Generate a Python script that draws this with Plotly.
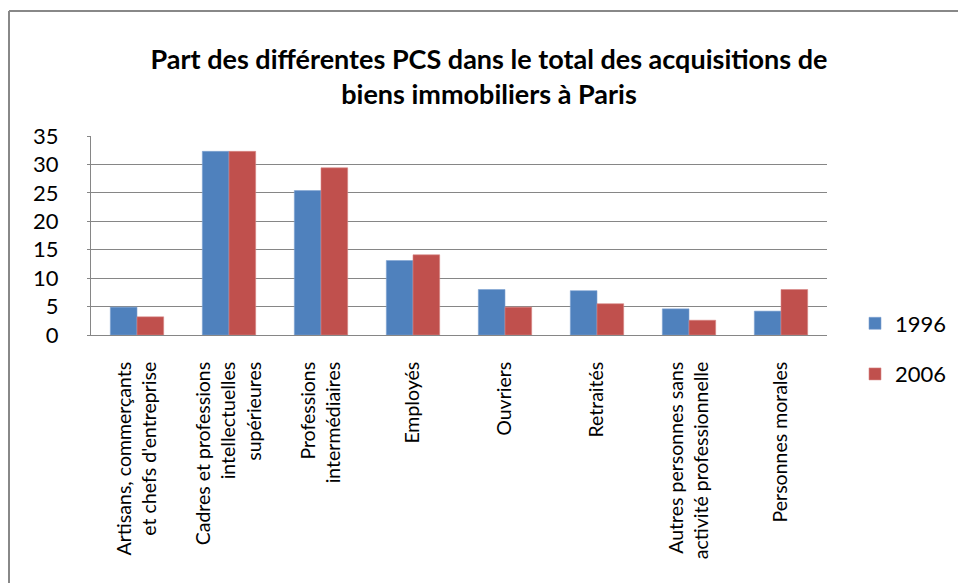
import plotly.graph_objects as go

categories = [
    "Artisans, commerçants<br>et chefs d'entreprise",
    "Cadres et professions<br>intellectuelles<br>supérieures",
    "Professions<br>intermédiaires",
    "Employés",
    "Ouvriers",
    "Retraités",
    "Autres personnes sans<br>activité professionnelle",
    "Personnes morales",
]
values_1996 = [4.9, 32.3, 25.4, 13.1, 8.0, 7.8, 4.6, 4.2]
values_2006 = [3.2, 32.3, 29.4, 14.1, 4.9, 5.5, 2.6, 8.0]
y_ticks = [0, 5, 10, 15, 20, 25, 30, 35]

FONT = "Lato"
W, H = 958, 583
L, R, T, B = 91, 827, 136, 335
pw, ph = R - L, B - T

fig = go.Figure()
fig.add_trace(go.Bar(name="1996", x=list(range(len(categories))), y=values_1996,
                     marker=dict(color="#4F81BD", line=dict(color="#7FA3D1", width=0.6)),
                     legendgroup="a"))
fig.add_trace(go.Bar(name="2006", x=list(range(len(categories))), y=values_2006,
                     marker=dict(color="#C0504D", line=dict(color="#D98886", width=0.6)),
                     legendgroup="b"))

def px(x):
    return (x - L) / pw

def py(y):
    return (B - y) / ph

shapes = [
    dict(type="line", xref="paper", yref="paper", x0=px(9), x1=px(9), y0=py(H + 5), y1=py(11),
         line=dict(color="#888888", width=2)),
    dict(type="line", xref="paper", yref="paper", x0=px(9), x1=px(W + 5), y0=py(11), y1=py(11),
         line=dict(color="#888888", width=2)),
]

fig.update_layout(
    width=W, height=H,
    margin=dict(l=L, r=W - R, t=T, b=H - B, autoexpand=False),
    paper_bgcolor="white", plot_bgcolor="white",
    barmode="group", bargap=0.42, bargroupgap=0,
    font=dict(family=FONT, color="#000000"),
    title=dict(text="Part des différentes PCS dans le total des acquisitions de<br>biens immobiliers à Paris",
               x=489 / W, xanchor="center", y=1 - 69 / H, yanchor="middle",
               font=dict(size=27, family=FONT, weight="bold")),
    xaxis=dict(tickmode="array", tickvals=list(range(len(categories))), ticktext=categories,
               tickangle=-90, tickfont=dict(size=19.5, family=FONT), range=[-0.5, 7.5],
               showgrid=False, showline=True, linecolor="#868686", linewidth=1,
               ticks="", ticklabelstandoff=18, fixedrange=True, automargin=False),
    yaxis=dict(range=[0, 35], tickmode="array", tickvals=y_ticks,
               tickfont=dict(size=22, family=FONT),
               showgrid=True, gridcolor="#868686", gridwidth=1,
               showline=True, linecolor="#868686", linewidth=1,
               ticks="outside", ticklen=3, tickcolor="#868686",
               ticklabelstandoff=24, zeroline=False, automargin=False),
    legend=dict(x=px(855), xanchor="left", y=py(349), yanchor="middle",
                font=dict(size=22, family=FONT), tracegroupgap=19,
                itemwidth=30, bgcolor="rgba(0,0,0,0)"),
    shapes=shapes,
    showlegend=True,
)

fig.write_html("out.html", config={"displayModeBar": False},
               post_script="document.body.style.margin='0';document.body.style.overflow='hidden';")
